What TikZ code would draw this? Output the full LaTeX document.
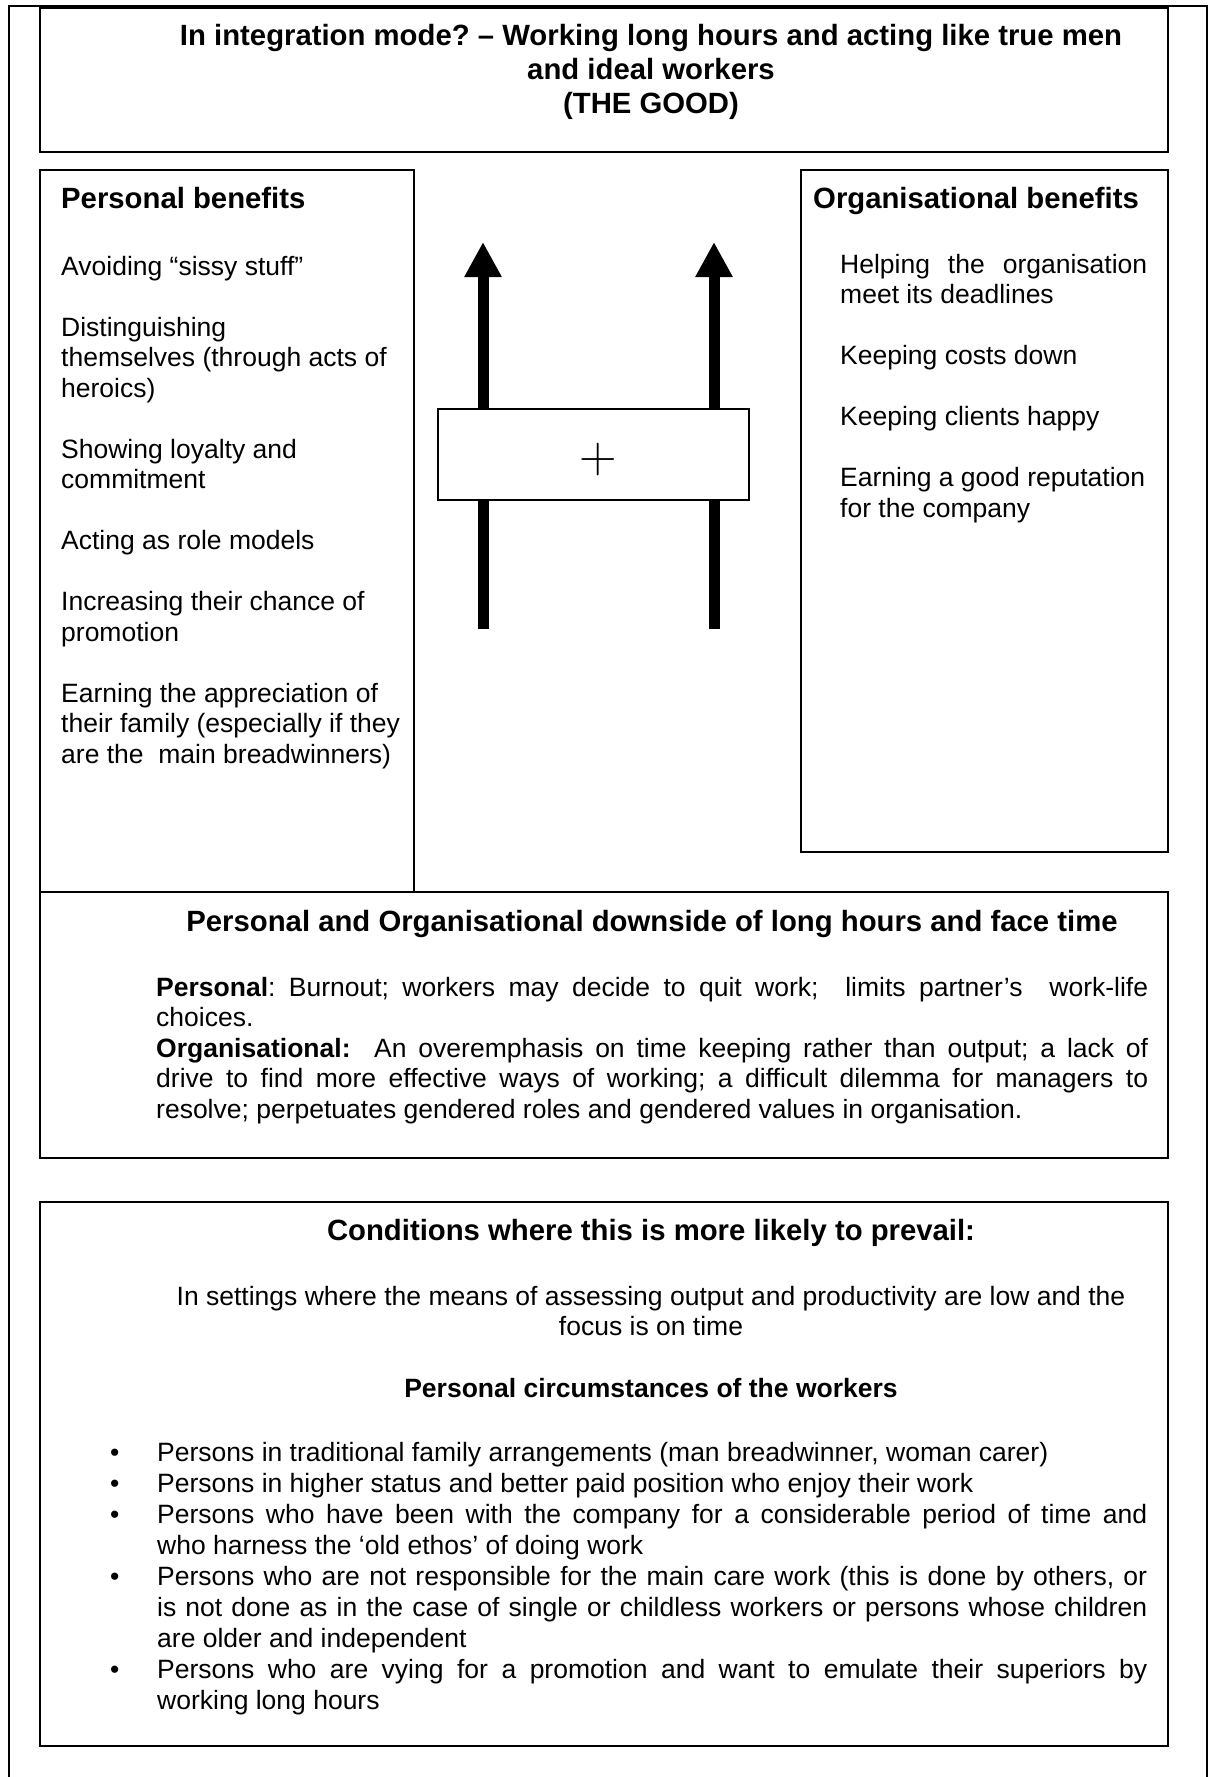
\documentclass[tikz,border=0pt]{standalone}
\usepackage{fontspec}
\newfontfamily\arial{Liberation Sans}
\usetikzlibrary{arrows.meta}
\frenchspacing
\newcommand{\nsp}{\spaceskip=0pt\xspaceskip=0pt\hyphenpenalty=10000\relax}
\newcommand{\nspc}{\spaceskip=\fontdimen2\font\xspaceskip=0pt\hyphenpenalty=10000\relax}
\newcommand{\bul}{\leavevmode\llap{\makebox[47pt][l]{•}}}
\tikzset{
  frame/.style={draw=black, line width=1.8pt},
  bodytxt/.style={font=\arial\fontsize{26.5}{30.5}\selectfont, inner sep=0pt, anchor=base west, align=left},
  headtxt/.style={font=\arial\bfseries\fontsize{29.3}{33.7}\selectfont, inner sep=0pt},
  bigarrow/.style={line width=11pt, -{Triangle[width=35pt,length=35pt]}},
}
\begin{document}
\begin{tikzpicture}[x=1pt,y=-1pt]
\fill[white] (0,0) rectangle (1214,1777);
\useasboundingbox (0,0) rectangle (1214,1777);
% outer frame (open at the bottom)
\draw[frame] (9,1780) -- (9,6) -- (1207,6) -- (1207,1780);
% boxes
\draw[frame] (40,8) rectangle (1168,152);
\draw[frame] (40,170) rectangle (414,892);
\draw[frame] (801,170) rectangle (1168,852);
\draw[frame] (40,892) rectangle (1168,1158);
\draw[frame] (40,1202) rectangle (1168,1746);
% arrows
\coordinate (a1s) at (483,629); \coordinate (a1e) at (483,242);
\coordinate (a2s) at (714,629); \coordinate (a2e) at (714,242);
\draw[bigarrow] (a1s) -- (a1e);
\draw[bigarrow] (a2s) -- (a2e);
\node[frame, line width=1.5pt, fill=white, minimum width=311pt, minimum height=91pt, inner sep=0pt] (plusbox) at (593.5,454.5) {};
\node[inner sep=0pt, font=\fontsize{52}{52}\selectfont] (plus) at (598,460) {+};
% title
\node[headtxt, anchor=base, align=center, text width=1100pt] (title) at (651,46) {\nspc In integration mode? – Working long hours and acting like true men\\and ideal workers\\(THE GOOD)};
% personal benefits
\node[headtxt, anchor=base west] (pbhead) at (61,208) {\nsp Personal benefits};
\node[bodytxt, text width=345pt] (pblist) at (61,275) {\nsp Avoiding “sissy stuff”\\[30.5pt]Distinguishing\\themselves (through acts of\\heroics)\\[30.5pt]Showing loyalty and\\commitment\\[30.5pt]Acting as role models\\[30.5pt]Increasing their chance of\\promotion\\[30.5pt]Earning the appreciation of\\their family (especially if they\\are the\ \ main breadwinners)};
% organisational benefits
\node[headtxt, anchor=base west] (obhead) at (813,208) {\nsp Organisational benefits};
\node[bodytxt, text width=340pt] (oblist) at (840,273) {\nsp\makebox[307pt][s]{Helping the organisation}\\meet its deadlines\\[30.5pt]Keeping costs down\\[30.5pt]Keeping clients happy\\[30.5pt]Earning a good reputation\\for the company};
% downside
\node[headtxt, anchor=base] (dshead) at (652,931) {\nsp Personal and Organisational downside of long hours and face time};
\node[bodytxt, text width=1000pt] (dsbody) at (156,996) {\nsp\makebox[992pt][s]{\textbf{Personal}: Burnout; workers may decide to quit work;\ \ limits partner’s\ \ work-life}\\choices.\\\makebox[992pt][s]{\textbf{Organisational:}\ \ An overemphasis on time keeping rather than output; a lack of}\\\makebox[992pt][s]{drive to find more effective ways of working; a difficult dilemma for managers to}\\resolve; perpetuates gendered roles and gendered values in organisation.};
% conditions
\node[headtxt, anchor=base] (cdhead) at (651,1240) {\nsp Conditions where this is more likely to prevail:};
\node[bodytxt, anchor=base, align=center, text width=1000pt] (cdsetting) at (651,1305) {\nspc In settings where the means of assessing output and productivity are low and the\\focus is on time};
\node[bodytxt, anchor=base, font=\arial\bfseries\fontsize{26.5}{30.5}\selectfont] (pchead) at (651,1397) {\nsp Personal circumstances of the workers};
\node[bodytxt, text width=1000pt, font=\arial\fontsize{26.5}{31}\selectfont] (bullets) at (157,1461) {\nsp\bul Persons in traditional family arrangements (man breadwinner, woman carer)\\\bul Persons in higher status and better paid position who enjoy their work\\\bul\makebox[990pt][s]{Persons who have been with the company for a considerable period of time and}\\who harness the ‘old ethos’ of doing work\\\bul\makebox[990pt][s]{Persons who are not responsible for the main care work (this is done by others, or}\\\makebox[990pt][s]{is not done as in the case of single or childless workers or persons whose children}\\are older and independent\\\bul\makebox[990pt][s]{Persons who are vying for a promotion and want to emulate their superiors by}\\working long hours};
\end{tikzpicture}
\end{document}
